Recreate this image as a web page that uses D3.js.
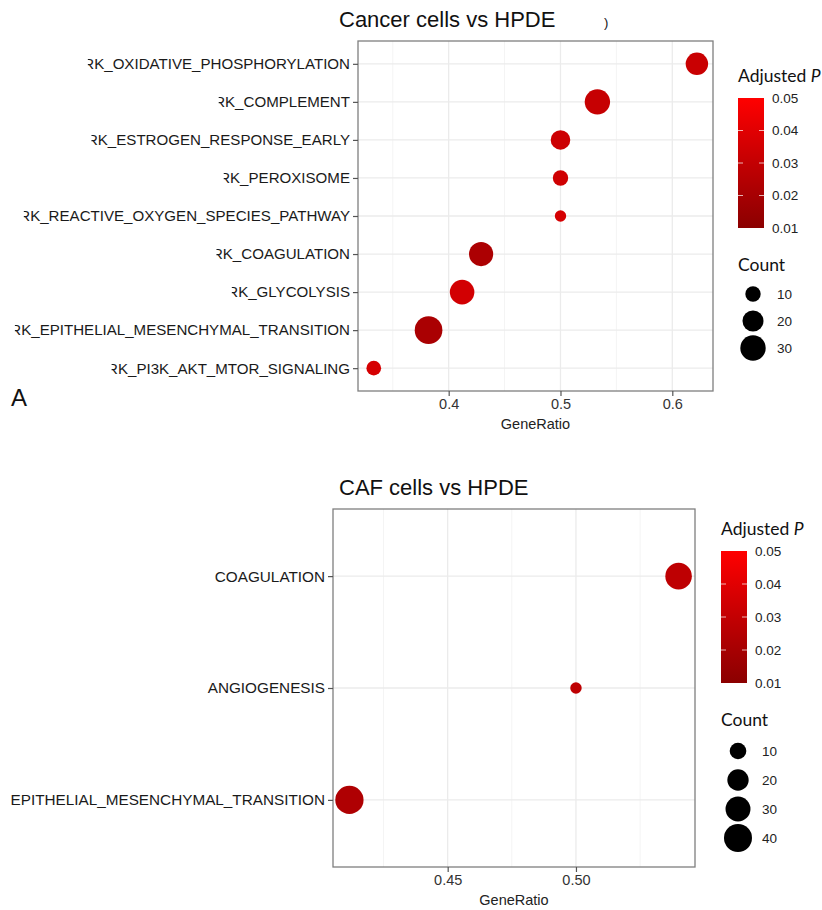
<!DOCTYPE html>
<html>
<head>
<meta charset="utf-8">
<script src="https://cdn.jsdelivr.net/npm/d3@7"></script>
<style>
  body { margin: 0; background: #fff; }
  svg { display: block; }
</style>
</head>
<body>
<svg id="chart" width="822" height="910"></svg>
<script>
// panel A : cancer cells vs HPDE
const topTerms = ['RK_OXIDATIVE_PHOSPHORYLATION', 'RK_COMPLEMENT', 'RK_ESTROGEN_RESPONSE_EARLY',
  'RK_PEROXISOME', 'RK_REACTIVE_OXYGEN_SPECIES_PATHWAY', 'RK_COAGULATION', 'RK_GLYCOLYSIS',
  'RK_EPITHELIAL_MESENCHYMAL_TRANSITION', 'RK_PI3K_AKT_MTOR_SIGNALING']
const topRatio = [0.622, 0.533, 0.5, 0.5, 0.5, 0.429, 0.412, 0.382, 0.333]
const topCount = [23, 30, 17, 10, 5, 27, 28, 36, 9]
const topPadj = [0.032, 0.031, 0.033, 0.034, 0.036, 0.022, 0.035, 0.021, 0.036]
const topXTicks = [0.4, 0.5, 0.6]
const topCountBreaks = [10, 20, 30]

// panel B : CAF cells vs HPDE
const botTerms = ['COAGULATION', 'ANGIOGENESIS', 'EPITHELIAL_MESENCHYMAL_TRANSITION']
const botRatio = [0.54, 0.5, 0.4117]
const botCount = [35, 3, 41]
const botPadj = [0.028, 0.028, 0.023]
const botXTicks = [0.45, 0.50]
const botCountBreaks = [10, 20, 30, 40]

const pBreaks = [0.05, 0.04, 0.03, 0.02, 0.01]

const svg = d3.select('#chart')
const color = d3.scaleLinear().domain([0.01, 0.05]).range(['#8B0000', '#FF0000']).interpolate(d3.interpolateLab)
const sans = '"Liberation Sans", Arial, sans-serif'

// gradient for the colour bars
const grad = svg.append('defs').append('linearGradient')
  .attr('id', 'pgrad').attr('x1', 0).attr('y1', 0).attr('x2', 0).attr('y2', 1)
grad.selectAll('stop').data(d3.range(0, 1.001, 0.1)).enter().append('stop')
  .attr('offset', d => d)
  .attr('stop-color', d => color(0.05 - d * 0.04))

function panel(cfg) {
  const terms = cfg.terms
  const x = d3.scaleLinear().domain(cfg.xdom).range([cfg.left, cfg.right])
  const y = d3.scalePoint().domain(terms).range([cfg.top, cfg.bottom]).padding(0.6)
  const r = d3.scaleSqrt().domain(cfg.rdom).range(cfg.rrange)
  const g = svg.append('g')

  // minor grid
  const minor = cfg.xticks.map(t => t - cfg.step / 2).concat([cfg.xticks[cfg.xticks.length - 1] + cfg.step / 2])
  g.selectAll('.minor').data(minor.filter(v => x(v) > cfg.left && x(v) < cfg.right)).enter().append('line')
    .attr('x1', d => x(d)).attr('x2', d => x(d))
    .attr('y1', cfg.top).attr('y2', cfg.bottom)
    .attr('stroke', '#F4F4F4').attr('stroke-width', 1)
  // major grid
  g.selectAll('.vmajor').data(cfg.xticks).enter().append('line')
    .attr('x1', d => x(d)).attr('x2', d => x(d))
    .attr('y1', cfg.top).attr('y2', cfg.bottom)
    .attr('stroke', '#EBEBEB').attr('stroke-width', 1.3)
  g.selectAll('.hmajor').data(terms).enter().append('line')
    .attr('x1', cfg.left).attr('x2', cfg.right)
    .attr('y1', d => y(d)).attr('y2', d => y(d))
    .attr('stroke', '#EBEBEB').attr('stroke-width', 1.3)

  // points
  g.selectAll('circle.pt').data(terms).enter().append('circle')
    .attr('class', 'pt')
    .attr('cx', (d, i) => x(cfg.ratio[i]))
    .attr('cy', d => y(d))
    .attr('r', (d, i) => r(cfg.count[i]))
    .attr('fill', (d, i) => color(cfg.padj[i]))

  // border
  g.append('rect')
    .attr('x', cfg.left).attr('y', cfg.top)
    .attr('width', cfg.right - cfg.left).attr('height', cfg.bottom - cfg.top)
    .attr('fill', 'none').attr('stroke', '#7F7F7F').attr('stroke-width', 1.3)

  // y axis
  const yAxis = g.append('g').attr('transform', `translate(${cfg.left},0)`)
    .call(d3.axisLeft(y).tickSize(5).tickPadding(3))
  yAxis.select('.domain').remove()
  yAxis.selectAll('line').attr('stroke', '#555').attr('stroke-width', 1.2)
  yAxis.selectAll('text').attr('fill', '#1a1a1a')
    .style('font-family', sans).style('font-size', cfg.yfont)

  // hide the left part of the cut "R"
  if (cfg.cut) {
    yAxis.selectAll('text').each(function () {
      const len = this.getComputedTextLength()
      const rw = this.getSubStringLength(0, 1)
      const ty = y(this.textContent)
      yAxis.append('rect')
        .attr('x', -3 - 5 - len - 1)
        .attr('y', ty - 10)
        .attr('width', rw * 0.42 + 1)
        .attr('height', 20)
        .attr('fill', '#fff')
    })
  }

  // x axis
  const xAxis = g.append('g').attr('transform', `translate(0,${cfg.bottom})`)
    .call(d3.axisBottom(x).tickValues(cfg.xticks).tickFormat(d3.format(cfg.fmt)).tickSize(5).tickPadding(3))
  xAxis.select('.domain').remove()
  xAxis.selectAll('line').attr('stroke', '#555').attr('stroke-width', 1.2)
  xAxis.selectAll('text').attr('fill', '#333')
    .style('font-family', sans).style('font-size', '14.5px')

  g.append('text')
    .attr('x', (cfg.left + cfg.right) / 2).attr('y', cfg.bottom + 38)
    .attr('text-anchor', 'middle').attr('fill', '#222')
    .style('font-family', sans).style('font-size', '14.5px')
    .text('GeneRatio')

  // title
  g.append('text')
    .attr('x', 339).attr('y', cfg.top - 14)
    .attr('fill', '#111')
    .style('font-family', sans).style('font-size', '22px')
    .text(cfg.title)

  // colour legend
  const lx = cfg.legX, ly = cfg.legY
  const lt = g.append('text').attr('x', lx).attr('y', ly)
    .style('font-family', 'Lato, sans-serif').style('font-size', '17.5px').attr('fill', '#111')
  lt.append('tspan').text('Adjusted ')
  lt.append('tspan').style('font-style', 'italic').text('P')

  const bar = d3.scaleLinear().domain([0.05, 0.01]).range([ly + 16, ly + 16 + cfg.barH])
  g.append('rect').attr('x', lx).attr('y', bar(0.05)).attr('width', 26).attr('height', cfg.barH)
    .attr('fill', 'url(#pgrad)')
  g.selectAll('.ptick').data(pBreaks.slice(1, 4)).enter().append('path')
    .attr('d', d => `M${lx},${bar(d)}h5M${lx + 21},${bar(d)}h5`)
    .attr('stroke', '#fff').attr('stroke-opacity', 0.7).attr('stroke-width', 1)
  g.selectAll('.plab').data(pBreaks).enter().append('text')
    .attr('x', lx + 34).attr('y', d => bar(d)).attr('dy', '0.35em')
    .attr('fill', '#222')
    .style('font-family', sans).style('font-size', '13.5px')
    .text(d => d3.format('.2f')(d))

  // size legend
  const cy = cfg.cntY
  g.append('text').attr('x', lx).attr('y', cy)
    .style('font-family', 'Lato, sans-serif').style('font-size', '17.5px').attr('fill', '#111')
    .text('Count')
  g.selectAll('.sdot').data(cfg.breaks).enter().append('circle')
    .attr('cx', lx + cfg.dotDx).attr('cy', (d, i) => cy + cfg.dotY0 + i * cfg.dotStep)
    .attr('r', d => r(d)).attr('fill', '#000')
  g.selectAll('.slab').data(cfg.breaks).enter().append('text')
    .attr('x', lx + cfg.dotDx + 24).attr('y', (d, i) => cy + cfg.dotY0 + i * cfg.dotStep).attr('dy', '0.35em')
    .attr('fill', '#222')
    .style('font-family', sans).style('font-size', '13.5px')
    .text(d => d)
}

panel({
  terms: topTerms, ratio: topRatio, count: topCount, padj: topPadj,
  xdom: [0.3189, 0.6364], xticks: topXTicks, step: 0.1, fmt: '.1f',
  left: 358, right: 713, top: 41, bottom: 391,
  rdom: [10, 30], rrange: [7.7, 12.7], cut: true, yfont: '15.1px',
  title: 'Cancer cells vs HPDE',
  legX: 738, legY: 82, barH: 130,
  cntY: 271, breaks: topCountBreaks, dotDx: 15, dotY0: 23, dotStep: 27
})

panel({
  terms: botTerms, ratio: botRatio, count: botCount, padj: botPadj,
  xdom: [0.4053, 0.5464], xticks: botXTicks, step: 0.05, fmt: '.2f',
  left: 333, right: 695, top: 509, bottom: 867,
  rdom: [10, 40], rrange: [8.3, 14], cut: false, yfont: '15.3px',
  title: 'CAF cells vs HPDE',
  legX: 721, legY: 535, barH: 132,
  cntY: 726, breaks: botCountBreaks, dotDx: 17, dotY0: 25, dotStep: 29
})

// stray bracket and panel letter
svg.append('text').attr('x', 604).attr('y', 27)
  .style('font-family', sans).style('font-size', '13px')
  .attr('fill', '#111').text(')')
svg.append('text').attr('x', 11).attr('y', 406)
  .style('font-family', sans).style('font-size', '24px')
  .attr('fill', '#111').text('A')
</script>
</body>
</html>
